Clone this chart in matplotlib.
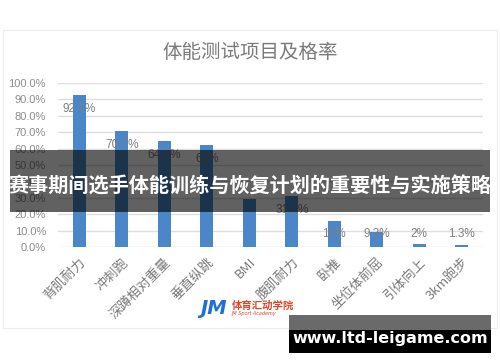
import matplotlib
matplotlib.use('Agg')
import matplotlib.pyplot as plt
from matplotlib.patches import Rectangle
import numpy as np

plt.rcParams['font.family'] = ['Noto Sans CJK SC', 'DejaVu Sans']

# data
categories = ['背肌耐力', '冲刺跑', '深蹲相对重量', '垂直纵跳', 'BMI', '腹肌耐力',
              '卧推', '坐位体前屈', '引体向上', '3km跑步']
passRate = [92.7, 70.7, 64.7, 62.0, 29.6, 31.1, 16.0, 9.3, 2.0, 1.3]
rateLabels = ['92.7%', '70.7%', '64.7%', '62%', '', '31.1%', '16%', '9.3%', '2%', '1.3%']
yTicks = [0, 10, 20, 30, 40, 50, 60, 70, 80, 90, 100]

W, H = 500, 362
fig = plt.figure(figsize=(W / 100, H / 100), dpi=100)
fig.patch.set_facecolor('white')

def fx(px):
    return px / W

def fy(py):
    return 1 - py / H

# card behind the chart
fig.patches.append(Rectangle((fx(3), fy(328)), fx(494), (328 - 30) / H,
                             transform=fig.transFigure, facecolor='white',
                             edgecolor='#ececec', lw=0.8, zorder=-5))

ax = fig.add_axes([fx(58), fy(247.3), fx(483) - fx(58), (247.3 - 82.7) / H])
ax.set_facecolor('none')
x = np.arange(len(categories))
ax.bar(x, passRate, width=0.31, color='#4a86c8', zorder=3)

for i in range(len(categories)):
    ly = max(passRate[i] - 8.5, 8)
    ax.text(x[i], ly, rateLabels[i], ha='center', va='center', fontsize=8.5,
            color='#7f7f7f', family=['Liberation Sans'], zorder=4)

ax.set_ylim(0, 100)
ax.set_xlim(-0.5, len(categories) - 0.5)
ax.set_yticks(yTicks)
ax.set_yticklabels(['%.1f%%' % t for t in yTicks], fontsize=8, color='#8c8c8c',
                   family=['Liberation Sans'])
ax.set_xticks(x)
ax.set_xticklabels(categories, rotation=45, ha='right', rotation_mode='anchor',
                   fontsize=9.5, color='#7a7a7a')
ax.tick_params(length=0, pad=6)
ax.tick_params(axis='y', pad=8.6)
for s in ax.spines.values():
    s.set_visible(False)
ax.grid(axis='y', color='#dedede', lw=1, zorder=0)

fig.text(0.5, fy(52), '体能测试项目及格率', ha='center', va='center',
         fontsize=14, color='#7a7a7a')

# logo
fig.text(fx(200), fy(308), 'JM', ha='left', va='center', fontsize=14,
         fontweight='bold', style='italic', color='#1f6fd6', family=['DejaVu Sans'])
fig.text(fx(232), fy(306), '体育汇动学院', ha='left', va='center', fontsize=7.5,
         fontweight='bold', color='#e0452a')
fig.text(fx(232), fy(313), 'JM Sport Academy', ha='left', va='center', fontsize=3.5,
         style='italic', color='#e0452a', family=['DejaVu Sans'])

# overlay banner
fig.patches.append(Rectangle((fx(10), fy(212)), fx(480), 62 / H, transform=fig.transFigure,
                             facecolor='black', alpha=0.62, edgecolor='none', zorder=10))
fig.text(0.5, fy(186), '赛事期间选手体能训练与恢复计划的重要性与实施策略', ha='center',
         va='center', fontsize=14.5, fontweight='bold', color='white', zorder=11)

# watermark
fig.patches.append(Rectangle((fx(289), fy(330)), fx(202), 15 / H, transform=fig.transFigure,
                             facecolor='#6a6a6a', edgecolor='none', zorder=10))
fig.patches.append(Rectangle((fx(289), fy(352.5)), fx(202), 22.5 / H, transform=fig.transFigure,
                             facecolor='black', edgecolor='none', zorder=10))
fig.text(fx(390), fy(338.5), 'www.ltd-leigame.com', ha='center', va='center',
         fontsize=11.5, fontweight='bold', color='white', family=['DejaVu Sans'], zorder=11)

fig.savefig('out.png', dpi=100)
